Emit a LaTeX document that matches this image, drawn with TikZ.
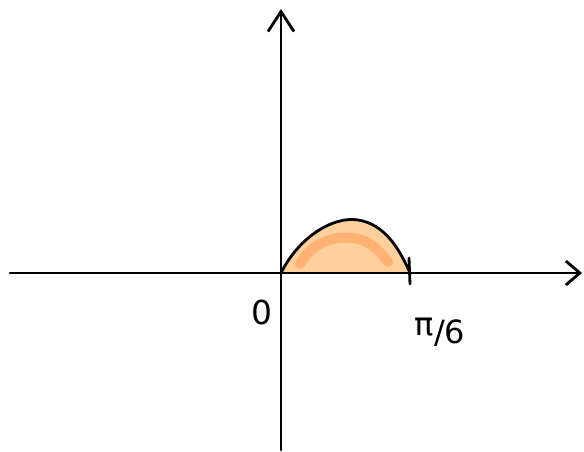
\documentclass[tikz,border=0pt]{standalone}
\usepackage{tikz}
\usepackage{fontspec}
\newfontfamily\labelfont{DejaVu Sans}
\usetikzlibrary{arrows.meta}
\definecolor{humplight}{HTML}{FFCF9C}
\definecolor{humpdark}{HTML}{FFAE6C}

\begin{document}
\begin{tikzpicture}[x=1pt, y=-1pt, line cap=round, line join=round]

\useasboundingbox (0,0) rectangle (584,452);

% Area under the hump
\fill[humplight]
    (281,273) .. controls (300,235) and (335,216) .. (358,220)
    .. controls (385,224) and (400,250) .. (408,273) -- cycle;
\draw[humpdark, line width=10pt, opacity=0.85]
    (300,264) .. controls (312,242) and (335,236) .. (350,238)
    .. controls (367,238) and (380,250) .. (388,262);

% Axes
\coordinate (xl) at (10,273);
\coordinate (xr) at (582,273);
\coordinate (yb) at (281,450);
\coordinate (yt) at (281,9);
\draw[line width=2.8pt, -{Straight Barb[length=14pt, width=24pt, line width=2.8pt]}] (xl) -- (xr);
\draw[line width=2.8pt, -{Straight Barb[length=20pt, width=26pt, line width=2.8pt]}] (yb) -- (yt);

% Curve and tick
\coordinate (o) at (281,273);
\coordinate (p) at (410,273);
\draw[line width=2.8pt]
    (o) .. controls (300,235) and (335,216) .. (358,220)
    .. controls (385,224) and (400,250) .. (p);
\draw[line width=2.8pt] (409,258) -- (410,284);

% Labels
\node[font=\fontsize{33}{33}\selectfont\labelfont] (zero) at (262,312) {0};
\node[font=\fontsize{32}{32}\selectfont\labelfont, inner sep=0pt] (pisix) at (440,332) {π\raisebox{-8pt}{/6}};

\end{tikzpicture}
\end{document}
